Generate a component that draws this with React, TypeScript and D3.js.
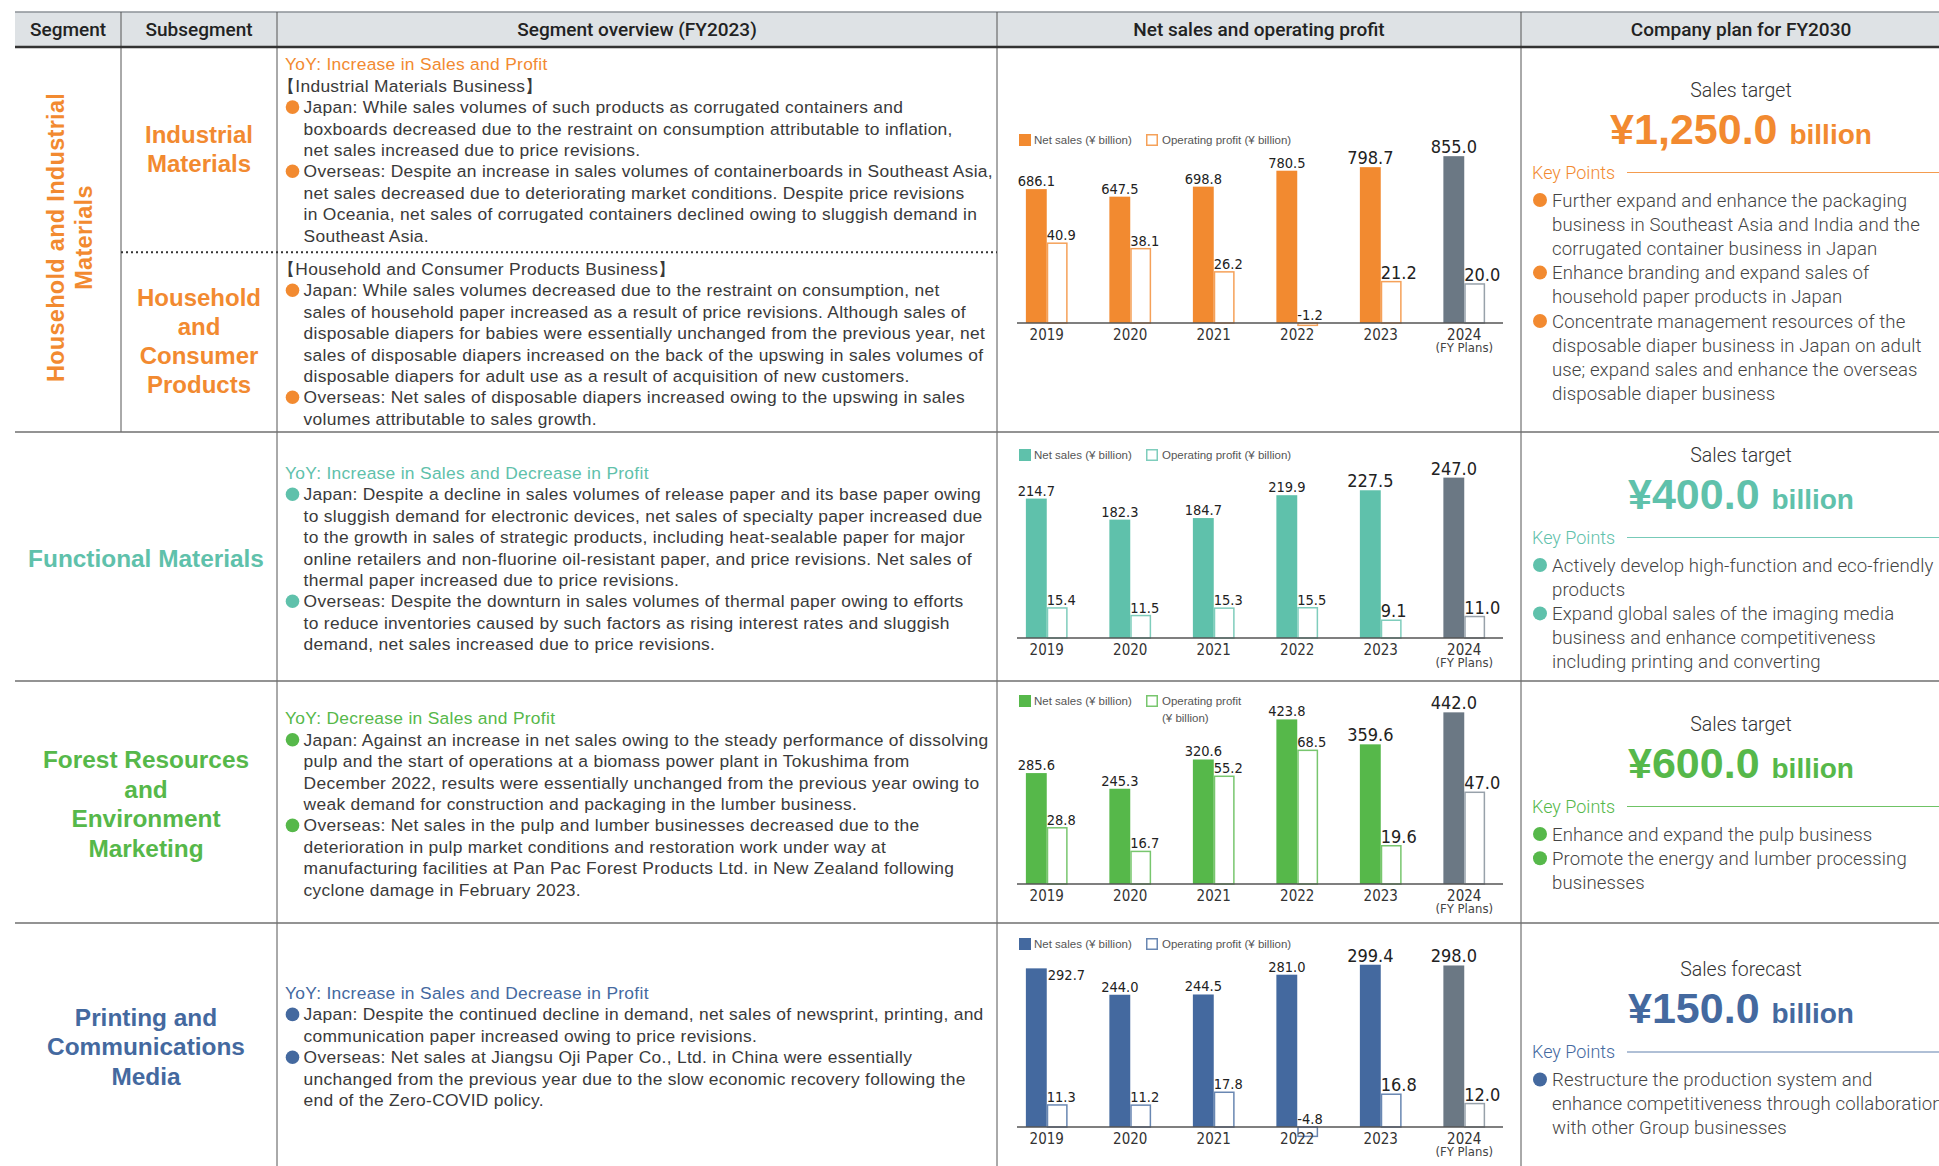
import * as d3 from 'd3';

// ---- chart data (¥ billion) ----
const years = ['2019', '2020', '2021', '2022', '2023', '2024'];
const bigLabelYears = ['2023', '2024'];
const planYear = '2024';

const industrialSales = [686.1, 647.5, 698.8, 780.5, 798.7, 855.0];
const industrialProfit = [40.9, 38.1, 26.2, -1.2, 21.2, 20.0];
const functionalSales = [214.7, 182.3, 184.7, 219.9, 227.5, 247.0];
const functionalProfit = [15.4, 11.5, 15.3, 15.5, 9.1, 11.0];
const forestSales = [285.6, 245.3, 320.6, 423.8, 359.6, 442.0];
const forestProfit = [28.8, 16.7, 55.2, 68.5, 19.6, 47.0];
const printingSales = [292.7, 244.0, 244.5, 281.0, 299.4, 298.0];
const printingProfit = [11.3, 11.2, 17.8, -4.8, 16.8, 12.0];

// each chart has its own sales scale, profit scale is shared
const salesAxisMax = [1025, 308, 515, 369];
const profitAxisMax = 102.5;

// ---- table text ----
const headers = ['Segment', 'Subsegment', 'Segment overview (FY2023)', 'Net sales and operating profit', 'Company plan for FY2030'];
const segmentNames = [
  ['Household and Industrial', 'Materials'],
  ['Functional Materials'],
  ['Forest Resources', 'and', 'Environment', 'Marketing'],
  ['Printing and', 'Communications', 'Media'],
];
const subsegmentNames = [['Industrial', 'Materials'], ['Household', 'and', 'Consumer', 'Products']];

type Item = { kind: 'yoy' | 'title' | 'bullet' | 'divider'; lines: string[] };

const overviewIndustrial: Item[] = [
  { kind: 'yoy', lines: ['YoY: Increase in Sales and Profit'] },
  { kind: 'title', lines: ['【Industrial Materials Business】'] },
  { kind: 'bullet', lines: [
    'Japan: While sales volumes of such products as corrugated containers and',
    'boxboards decreased due to the restraint on consumption attributable to inflation,',
    'net sales increased due to price revisions.'] },
  { kind: 'bullet', lines: [
    'Overseas: Despite an increase in sales volumes of containerboards in Southeast Asia,',
    'net sales decreased due to deteriorating market conditions. Despite price revisions',
    'in Oceania, net sales of corrugated containers declined owing to sluggish demand in',
    'Southeast Asia.'] },
  { kind: 'divider', lines: [] },
  { kind: 'title', lines: ['【Household and Consumer Products Business】'] },
  { kind: 'bullet', lines: [
    'Japan: While sales volumes decreased due to the restraint on consumption, net',
    'sales of household paper increased as a result of price revisions. Although sales of',
    'disposable diapers for babies were essentially unchanged from the previous year, net',
    'sales of disposable diapers increased on the back of the upswing in sales volumes of',
    'disposable diapers for adult use as a result of acquisition of new customers.'] },
  { kind: 'bullet', lines: [
    'Overseas: Net sales of disposable diapers increased owing to the upswing in sales',
    'volumes attributable to sales growth.'] },
];
const overviewFunctional: Item[] = [
  { kind: 'yoy', lines: ['YoY: Increase in Sales and Decrease in Profit'] },
  { kind: 'bullet', lines: [
    'Japan: Despite a decline in sales volumes of release paper and its base paper owing',
    'to sluggish demand for electronic devices, net sales of specialty paper increased due',
    'to the growth in sales of strategic products, including heat-sealable paper for major',
    'online retailers and non-fluorine oil-resistant paper, and price revisions. Net sales of',
    'thermal paper increased due to price revisions.'] },
  { kind: 'bullet', lines: [
    'Overseas: Despite the downturn in sales volumes of thermal paper owing to efforts',
    'to reduce inventories caused by such factors as rising interest rates and sluggish',
    'demand, net sales increased due to price revisions.'] },
];
const overviewForest: Item[] = [
  { kind: 'yoy', lines: ['YoY: Decrease in Sales and Profit'] },
  { kind: 'bullet', lines: [
    'Japan: Against an increase in net sales owing to the steady performance of dissolving',
    'pulp and the start of operations at a biomass power plant in Tokushima from',
    'December 2022, results were essentially unchanged from the previous year owing to',
    'weak demand for construction and packaging in the lumber business.'] },
  { kind: 'bullet', lines: [
    'Overseas: Net sales in the pulp and lumber businesses decreased due to the',
    'deterioration in pulp market conditions and restoration work under way at',
    'manufacturing facilities at Pan Pac Forest Products Ltd. in New Zealand following',
    'cyclone damage in February 2023.'] },
];
const overviewPrinting: Item[] = [
  { kind: 'yoy', lines: ['YoY: Increase in Sales and Decrease in Profit'] },
  { kind: 'bullet', lines: [
    'Japan: Despite the continued decline in demand, net sales of newsprint, printing, and',
    'communication paper increased owing to price revisions.'] },
  { kind: 'bullet', lines: [
    'Overseas: Net sales at Jiangsu Oji Paper Co., Ltd. in China were essentially',
    'unchanged from the previous year due to the slow economic recovery following the',
    'end of the Zero-COVID policy.'] },
];

const planTitles = ['Sales target', 'Sales target', 'Sales target', 'Sales forecast'];
const planAmounts = ['¥1,250.0', '¥400.0', '¥600.0', '¥150.0'];
const planPoints = [
  [['Further expand and enhance the packaging', 'business in Southeast Asia and India and the', 'corrugated container business in Japan'],
   ['Enhance branding and expand sales of', 'household paper products in Japan'],
   ['Concentrate management resources of the', 'disposable diaper business in Japan on adult', 'use; expand sales and enhance the overseas', 'disposable diaper business']],
  [['Actively develop high-function and eco-friendly', 'products'],
   ['Expand global sales of the imaging media', 'business and enhance competitiveness', 'including printing and converting']],
  [['Enhance and expand the pulp business'],
   ['Promote the energy and lumber processing', 'businesses']],
  [['Restructure the production system and', 'enhance competitiveness through collaboration', 'with other Group businesses']],
];

// ---- layout ----
const W = 1939;
const H = 1166;
const colX = [15, 121, 277, 997, 1521, 1961];
const headerTop = 12;
const headerBottom = 47;
const rowTops = [47, 432, 681, 923];
const rowBottoms = [432, 681, 923, 1166];
const chartBaseOffset = [276, 206, 203, 204];
const planTopOffset = [43, 23, 43, 46.5];
const lineH = 21.4;

const colors = ['#f28a30', '#5fc1ab', '#56b84a', '#44699f'];
const planColor = '#6b7884';

const SANS = "'Liberation Sans', Arial, Helvetica, sans-serif";
const NARROW = "'Liberation Sans Narrow', 'Arial Narrow', 'DejaVu Sans Condensed', sans-serif";
const LIGHT = "Roboto, 'Liberation Sans', sans-serif";

const rows = [
  { sales: industrialSales, profit: industrialProfit, overview: overviewIndustrial, wrapLegend: false },
  { sales: functionalSales, profit: functionalProfit, overview: overviewFunctional, wrapLegend: false },
  { sales: forestSales, profit: forestProfit, overview: overviewForest, wrapLegend: true },
  { sales: printingSales, profit: printingProfit, overview: overviewPrinting, wrapLegend: false },
];

const lighten = (c: string, t: number) => d3.interpolateRgb(c, '#ffffff')(t);

function BarChart({ idx }: { idx: number }) {
  const { sales, profit, wrapLegend } = rows[idx];
  const color = colors[idx];
  const base = rowTops[idx] + chartBaseOffset[idx];
  const x = d3.scaleBand<string>().domain(years).range([1005, 1506]).paddingInner(0.5).paddingOuter(0.25);
  const half = x.bandwidth() / 2;
  const yS = d3.scaleLinear().domain([0, salesAxisMax[idx]]).range([base, base - 200]);
  const yP = d3.scaleLinear().domain([0, profitAxisMax]).range([base, base - 200]);
  const legendY = base - 183;
  const legendBottom = legendY + 6 + (wrapLegend ? 17 : 0);

  return (
    <g>
      {/* legend */}
      <rect x={1019} y={legendY - 6} width={12} height={12} fill={color} />
      <text x={1034} y={legendY} dy="0.35em" fontFamily={SANS} fontSize={11.5} fill="#555">Net sales (¥ billion)</text>
      <rect x={1146.75} y={legendY - 5.25} width={10.5} height={10.5} fill="#fff" stroke={lighten(color, 0.2)} strokeWidth={1.5} />
      {wrapLegend ? (
        <text x={1162} y={legendY} dy="0.35em" fontFamily={SANS} fontSize={11.5} fill="#555">
          Operating profit
          <tspan x={1162} dy={17}>(¥ billion)</tspan>
        </text>
      ) : (
        <text x={1162} y={legendY} dy="0.35em" fontFamily={SANS} fontSize={11.5} fill="#555">Operating profit (¥ billion)</text>
      )}

      {years.map((yr, i) => {
        const x0 = x(yr) as number;
        const plan = yr === planYear;
        const big = bigLabelYears.includes(yr);
        const fs = big ? 18 : 14.5;
        const sv = sales[i];
        const pv = profit[i];
        const fill = plan ? planColor : color;
        const stroke = plan ? '#97a1aa' : lighten(color, 0.2);
        const sTop = yS(sv);
        const pTop = yP(Math.max(0, pv));
        const pBot = yP(Math.min(0, pv));
        const capTop = sTop - 3 - fs * 0.72;
        const side = i === 0 && capTop < legendBottom + 8;
        return (
          <g key={yr}>
            <rect x={x0} y={sTop} width={half} height={base - sTop} fill={fill} />
            <rect x={x0 + half + 0.75} y={pTop} width={half - 1.5} height={Math.max(0.5, pBot - pTop)} fill="#fff" stroke={stroke} strokeWidth={1.5} />
            {side ? (
              <text x={x0 + half + 1} y={sTop + 12} fontFamily={NARROW} fontSize={fs} fill="#222">{sv.toFixed(1)}</text>
            ) : (
              <text x={x0 + half / 2} y={sTop - 3} textAnchor="middle" fontFamily={NARROW} fontSize={fs} fill="#222">{sv.toFixed(1)}</text>
            )}
            <text x={x0 + half} y={pTop - 3} fontFamily={NARROW} fontSize={fs} fill="#222">{pv.toFixed(1)}</text>
            <text x={x0 + half} y={base + 11.5} dy="0.35em" textAnchor="middle" fontFamily={NARROW} fontSize={15} fill="#333">{yr}</text>
            {plan && (
              <text x={x0 + half} y={base + 24.5} dy="0.35em" textAnchor="middle" fontFamily={NARROW} fontSize={13} fill="#444">(FY Plans)</text>
            )}
          </g>
        );
      })}
      <line x1={1017} x2={1503} y1={base} y2={base} stroke="#555" strokeWidth={1.5} />
    </g>
  );
}

function Overview({ idx }: { idx: number }) {
  const items = rows[idx].overview;
  const color = colors[idx];
  const nLines = d3.sum(items, (it) => it.lines.length);
  const gaps = items.filter((it) => it.kind === 'divider').length * 12;
  const span = (nLines - 1) * lineH + gaps;
  const center = (rowTops[idx] + rowBottoms[idx]) / 2 + 2;
  let y = center - span / 2;
  const out: JSX.Element[] = [];
  items.forEach((it, k) => {
    if (it.kind === 'divider') {
      const dy = y - lineH + (lineH + 12) / 2;
      out.push(<line key={`d${k}`} x1={colX[1]} x2={colX[3]} y1={dy} y2={dy} stroke="#333" strokeWidth={2} strokeDasharray="2 3" />);
      y += 12;
      return;
    }
    it.lines.forEach((ln, j) => {
      const isBullet = it.kind === 'bullet';
      if (isBullet && j === 0) {
        out.push(<circle key={`c${k}`} cx={292.5} cy={y} r={6.8} fill={color} />);
      }
      // full-width bracket glyph sits in the right half of its box, so pull titles left
      const tx = isBullet ? 303.6 : it.kind === 'title' ? 278 : 285;
      out.push(
        <text key={`t${k}-${j}`} x={tx} y={y} dy="0.35em" fontFamily={SANS} fontSize={17.4}
          letterSpacing={0.3} fill={it.kind === 'yoy' ? color : '#3a3a3a'}>{ln}</text>
      );
      y += lineH;
    });
  });
  return <g>{out}</g>;
}

function SegmentLabel({ idx }: { idx: number }) {
  const color = colors[idx];
  if (idx === 0) {
    const cx = (colX[0] + colX[1]) / 2 + 2;
    const cy = (rowTops[0] + rowBottoms[0]) / 2 - 2;
    const subs = [[rowTops[0], 251], [251, rowBottoms[0]]];
    const subCx = (colX[1] + colX[2]) / 2;
    return (
      <g>
        <text transform={`translate(${cx},${cy}) rotate(-90)`} textAnchor="middle" fontFamily={SANS} fontWeight="bold" fontSize={23.5} fill={color} letterSpacing={0.3}>
          {segmentNames[0].map((s, i) => (
            <tspan key={i} x={0} y={(i - 0.5) * 28.5} dy="0.35em">{s}</tspan>
          ))}
        </text>
        {subsegmentNames.map((lines, s) => {
          const c = (subs[s][0] + subs[s][1]) / 2;
          return lines.map((ln, i) => (
            <text key={`${s}-${i}`} x={subCx} y={c + (i - (lines.length - 1) / 2) * 29} dy="0.35em" textAnchor="middle"
              fontFamily={SANS} fontWeight="bold" fontSize={24} fill={color}>{ln}</text>
          ));
        })}
      </g>
    );
  }
  const lines = segmentNames[idx];
  const cx = (colX[0] + colX[2]) / 2;
  const c = (rowTops[idx] + rowBottoms[idx]) / 2 + 2;
  return (
    <g>
      {lines.map((ln, i) => (
        <text key={i} x={cx} y={c + (i - (lines.length - 1) / 2) * 29.5} dy="0.35em" textAnchor="middle"
          fontFamily={SANS} fontWeight="bold" fontSize={24.4} fill={color}>{ln}</text>
      ))}
    </g>
  );
}

function Plan({ idx }: { idx: number }) {
  const color = colors[idx];
  const cx = (colX[4] + colX[5]) / 2;
  const top = rowTops[idx] + planTopOffset[idx];
  const kpY = top + 82.5;
  let y = top + 110;
  const out: JSX.Element[] = [];
  planPoints[idx].forEach((pt, k) => {
    pt.forEach((ln, j) => {
      if (j === 0) out.push(<circle key={`c${k}`} cx={1540} cy={y} r={7} fill={color} />);
      out.push(<text key={`t${k}-${j}`} x={1552} y={y} dy="0.35em" fontFamily={LIGHT} fontWeight={300} fontSize={18.6}
        letterSpacing={0.1} fill="#444">{ln}</text>);
      y += 24.2;
    });
  });
  return (
    <g>
      <text x={cx} y={top} dy="0.35em" textAnchor="middle" fontFamily={LIGHT} fontWeight={300} fontSize={19.5} fill="#333">{planTitles[idx]}</text>
      <text x={cx} y={top + 53.5} textAnchor="middle" fontFamily={SANS} fontWeight="bold" fill={color}>
        <tspan fontSize={43}>{planAmounts[idx]} </tspan>
        <tspan fontSize={28}>billion</tspan>
      </text>
      <text x={1532} y={kpY} dy="0.35em" fontFamily={LIGHT} fontWeight={300} fontSize={18} fill={color}>Key Points</text>
      <line x1={1627} x2={W} y1={kpY} y2={kpY} stroke={lighten(color, 0.15)} strokeWidth={1} />
      {out}
    </g>
  );
}

const App = () => {
  const headerCenters = [0, 1, 2, 3, 4].map((i) => (colX[i] + colX[i + 1]) / 2);
  return (
    <svg width={W} height={H} style={{ position: 'absolute', left: 0, top: 0, background: '#fff' }}>
      {/* header */}
      <rect x={colX[0]} y={headerTop} width={W - colX[0]} height={headerBottom - headerTop} fill="#dee2e5" />
      <line x1={colX[0]} x2={W} y1={headerTop} y2={headerTop} stroke="#8c9297" strokeWidth={1.5} />
      {headers.map((h, i) => (
        <text key={h} x={headerCenters[i]} y={(headerTop + headerBottom) / 2} dy="0.35em" textAnchor="middle"
          fontFamily={LIGHT} fontWeight={500} fontSize={19} fill="#222">{h}</text>
      ))}

      {/* grid */}
      <line x1={colX[1]} x2={colX[1]} y1={headerTop} y2={rowBottoms[0]} stroke="#555" strokeWidth={1} />
      {[colX[2], colX[3], colX[4]].map((cx) => (
        <line key={cx} x1={cx} x2={cx} y1={headerTop} y2={H} stroke="#555" strokeWidth={1} />
      ))}
      {rowBottoms.slice(0, 3).map((y) => (
        <line key={y} x1={colX[0]} x2={W} y1={y} y2={y} stroke="#6f6f6f" strokeWidth={1.5} />
      ))}
      <line x1={colX[0]} x2={W} y1={headerBottom} y2={headerBottom} stroke="#333" strokeWidth={2.5} />

      {rows.map((_, i) => (
        <g key={i}>
          <SegmentLabel idx={i} />
          <Overview idx={i} />
          <BarChart idx={i} />
          <Plan idx={i} />
        </g>
      ))}
    </svg>
  );
};

export default App;
